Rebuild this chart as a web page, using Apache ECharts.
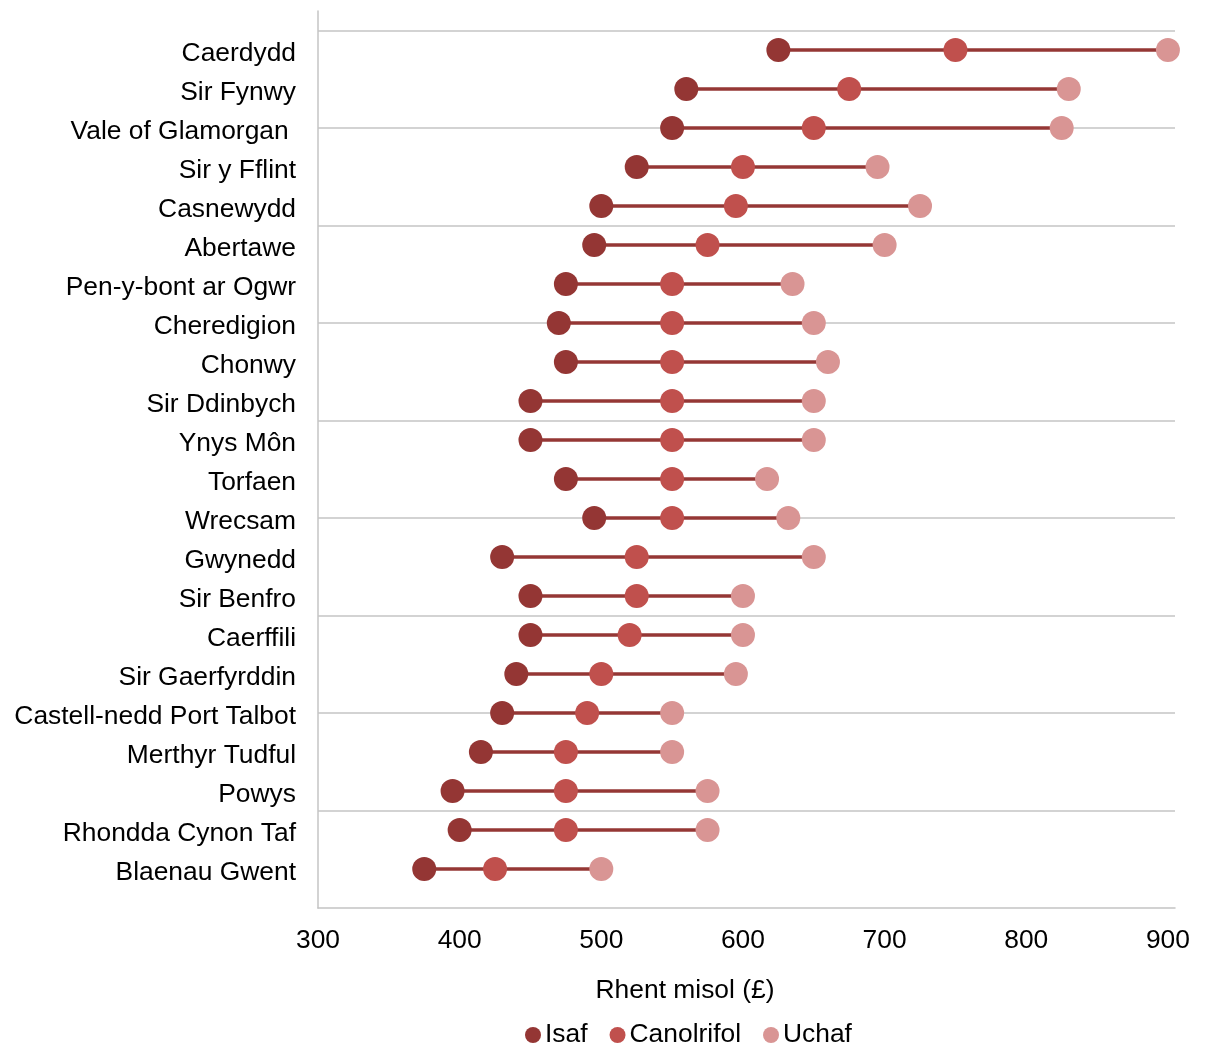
<!DOCTYPE html>
<html>
<head>
<meta charset="utf-8">
<script src="https://cdn.jsdelivr.net/npm/echarts@6/dist/echarts.min.js"></script>
<style>
html,body{margin:0;padding:0;background:#fff;}
#chart{width:1205px;height:1046px;}
</style>
</head>
<body>
<div id="chart"></div>
<script>
const categories = ['Caerdydd','Sir Fynwy','Vale of Glamorgan ','Sir y Fflint','Casnewydd','Abertawe','Pen-y-bont ar Ogwr','Cheredigion','Chonwy','Sir Ddinbych','Ynys Môn','Torfaen','Wrecsam','Gwynedd','Sir Benfro','Caerffili','Sir Gaerfyrddin','Castell-nedd Port Talbot','Merthyr Tudful','Powys','Rhondda Cynon Taf','Blaenau Gwent'];
const isaf       = [625,560,550,525,500,495,475,470,475,450,450,475,495,430,450,450,440,430,415,395,400,375];
const canolrifol = [750,675,650,600,595,575,550,550,550,550,550,550,550,525,525,520,500,490,475,475,475,425];
const uchaf      = [900,830,825,695,725,700,635,650,660,650,650,617,632,650,600,600,595,550,550,575,575,500];
const xTicks = [300,400,500,600,700,800,900];
const seriesNames = ['Isaf','Canolrifol','Uchaf'];

const n = categories.length;
const yPos = i => n - i; // top category at n, bottom at 1

const FONT = 'Arial, "Liberation Sans", sans-serif';
const FS = 26.4;
const chart = echarts.init(document.getElementById('chart'), null, {renderer:'canvas'});

const rangeData = categories.map((c,i) => [isaf[i], uchaf[i], yPos(i)]);
const pts = arr => arr.map((v,i) => [v, yPos(i)]);

chart.setOption({
  animation:false,
  backgroundColor:'#fff',
  textStyle:{fontFamily:FONT},
  title:{
    text:'Rhent misol (£)', left:680, top:973, textAlign:'center',
    textStyle:{fontFamily:FONT, fontSize:FS, fontWeight:'normal', color:'#000'}
  },
  legend:{
    data:seriesNames, left:520, top:1017, icon:'circle',
    itemWidth:16, itemHeight:16, itemGap:22,
    textStyle:{fontFamily:FONT, fontSize:FS, color:'#000', padding:[0,0,0,-1]}
  },
  grid:{left:318, right:30, top:11, bottom:138, containLabel:false},
  xAxis:{
    type:'value', min:xTicks[0], max:905, interval:100,
    axisLine:{show:true, lineStyle:{color:'#c4c4c4', width:1.5}},
    axisTick:{show:false},
    splitLine:{show:false},
    axisLabel:{show:true, showMaxLabel:false, margin:20, fontFamily:FONT, fontSize:FS, color:'#000',
      formatter: v => xTicks.indexOf(v) >= 0 ? String(v) : ''}
  },
  yAxis:[
    {
      type:'value', min:0, max:n+1, interval:1, position:'left',
      axisLine:{show:true, onZero:false, lineStyle:{color:'#c4c4c4', width:1.5}},
      axisTick:{show:false},
      splitLine:{show:false},
      axisLabel:{margin:22, fontFamily:FONT, fontSize:FS, color:'#000',
        showMinLabel:true, showMaxLabel:true,
        rich:{c:{fontFamily:FONT, fontSize:FS, color:'#000', padding:[7,0,0,0]}},
        formatter: v => (Number.isInteger(v) && v >= 1 && v <= n) ? '{c|' + categories[n - v] + '}' : ''}
    },
    {
      type:'value', min:0, max:n+1, interval:2.5, position:'left',
      axisLine:{show:false}, axisTick:{show:false}, axisLabel:{show:false},
      splitLine:{show:true, showMinLine:false, showMaxLine:false, lineStyle:{color:'#c4c4c4', width:1.5}}
    }
  ],
  series:[
    {
      type:'custom', name:'range', yAxisIndex:0, silent:true,
      data: rangeData,
      encode:{x:[0,1], y:2},
      renderItem:(params, api) => {
        const p1 = api.coord([api.value(0), api.value(2)]);
        const p2 = api.coord([api.value(1), api.value(2)]);
        return {type:'line', shape:{x1:p1[0], y1:p1[1], x2:p2[0], y2:p2[1]},
          style:{stroke:'#953735', lineWidth:3.5}};
      },
      z:1
    },
    {type:'scatter', name:seriesNames[0], data:pts(isaf), symbolSize:24, itemStyle:{color:'#943634', opacity:1}, z:2},
    {type:'scatter', name:seriesNames[1], data:pts(canolrifol), symbolSize:24, itemStyle:{color:'#c0504d', opacity:1}, z:3},
    {type:'scatter', name:seriesNames[2], data:pts(uchaf), symbolSize:24, itemStyle:{color:'#d99594', opacity:1}, z:4}
  ]
});
</script>
</body>
</html>
